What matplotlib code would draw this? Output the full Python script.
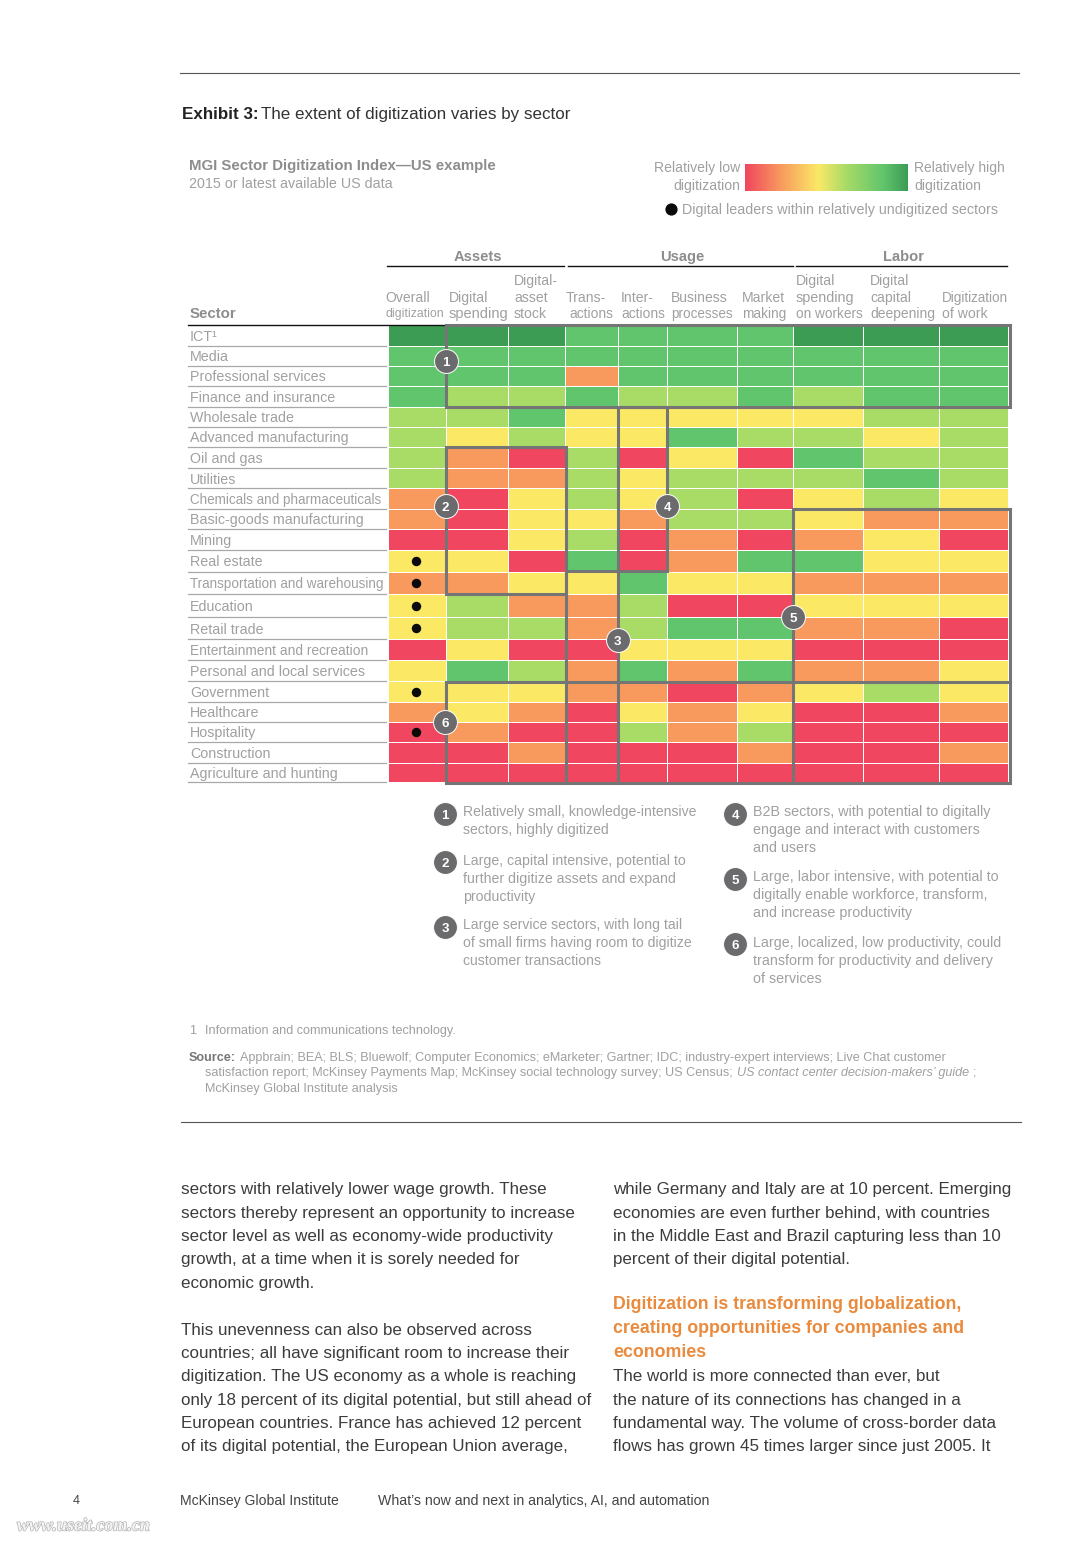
import numpy as np
import matplotlib
matplotlib.use('Agg')
import matplotlib.pyplot as plt
import matplotlib.patheffects as pe
from matplotlib.colors import ListedColormap, LinearSegmentedColormap

plt.rcParams['font.family'] = ['Liberation Sans', 'DejaVu Sans']

# chart data, levels: 0 red .. 5 dark green
sectors = ['ICT\u00b9', 'Media', 'Professional services', 'Finance and insurance', 'Wholesale trade',
           'Advanced manufacturing', 'Oil and gas', 'Utilities', 'Chemicals and pharmaceuticals',
           'Basic-goods manufacturing', 'Mining', 'Real estate', 'Transportation and warehousing',
           'Education', 'Retail trade', 'Entertainment and recreation', 'Personal and local services',
           'Government', 'Healthcare', 'Hospitality', 'Construction', 'Agriculture and hunting']
levels = [
    [5, 5, 5, 4, 4, 4, 4, 5, 5, 5],
    [4, 4, 4, 4, 4, 4, 4, 4, 4, 4],
    [4, 4, 4, 1, 4, 4, 4, 4, 4, 4],
    [4, 3, 3, 4, 3, 3, 4, 3, 4, 4],
    [3, 3, 4, 2, 2, 2, 2, 2, 3, 3],
    [3, 2, 3, 2, 2, 4, 3, 3, 2, 3],
    [3, 1, 0, 3, 0, 2, 0, 4, 3, 3],
    [3, 1, 1, 3, 2, 3, 3, 3, 4, 3],
    [1, 0, 2, 3, 2, 3, 0, 2, 3, 2],
    [1, 0, 2, 2, 1, 3, 3, 2, 1, 1],
    [0, 0, 2, 3, 0, 1, 0, 1, 2, 0],
    [2, 2, 0, 4, 0, 1, 4, 4, 2, 2],
    [1, 1, 2, 2, 4, 2, 2, 1, 1, 1],
    [2, 3, 1, 1, 3, 0, 0, 2, 2, 2],
    [2, 3, 3, 1, 3, 4, 4, 1, 1, 0],
    [0, 2, 0, 0, 2, 2, 2, 0, 0, 0],
    [2, 4, 3, 1, 4, 1, 4, 1, 1, 2],
    [2, 2, 2, 1, 1, 0, 1, 2, 3, 2],
    [1, 2, 1, 0, 2, 1, 2, 0, 0, 1],
    [0, 1, 0, 0, 3, 1, 3, 0, 0, 0],
    [0, 0, 1, 0, 0, 0, 1, 0, 0, 1],
    [0, 0, 0, 0, 0, 0, 0, 0, 0, 0],
]
leaders = ['Real estate', 'Transportation and warehousing', 'Education', 'Retail trade', 'Government', 'Hospitality']

# layout, in page pixels
row_edges = [325, 345.5, 365.7, 385.7, 406.7, 426.7, 447.3, 468, 488.3, 508.7, 529.3, 549.7,
             571.7, 594.3, 617.3, 639.3, 660.3, 681.3, 701.7, 721.7, 742.3, 762.7, 782.3]
col_edges = [388, 446, 508.3, 565.3, 618.3, 666.7, 737.3, 793.3, 863.3, 939.3, 1008.3]
# the long labels are set tighter in the original
label_sizes = {'Transportation and warehousing': 13.55, 'Chemicals and pharmaceuticals': 13.55,
               'Entertainment and recreation': 13.8}
colors = ['#f1465f', '#f89a5e', '#fbe966', '#a9db67', '#61c56d', '#3d9c54']
grey = '#8d8d8d'
light = '#a0a0a0'
frame = '#757575'

fig = plt.figure(figsize=(10.91, 15.43), dpi=100)
ax = fig.add_axes([0, 0, 1, 1])


def txt(x, y, s, px=13.4, color=light, ha='left', **kw):
    # y is the middle of the lower case letters
    return ax.text(x, y + 0.36 * px, s, fontsize=px * 0.72, color=color, ha=ha, va='baseline', **kw)


# heatmap
ax.pcolormesh(col_edges, row_edges, np.array(levels), cmap=ListedColormap(colors), vmin=-0.5, vmax=5.5,
              edgecolors='white', linewidth=0.55, zorder=2)

# sector labels and rules
for i, name in enumerate(sectors):
    yc = (row_edges[i] + row_edges[i + 1]) / 2
    txt(190, yc + 0.3, name, px=label_sizes.get(name, 14.2))
    ax.plot([188, 386], [row_edges[i + 1], row_edges[i + 1]], color='#a8a8a8', lw=0.9, zorder=1)
ax.plot([188, 446], [324.6, 324.6], color='#111111', lw=1.0, zorder=3)
for name in leaders:
    i = sectors.index(name)
    ax.plot(415.7, (row_edges[i] + row_edges[i + 1]) / 2, 'o', ms=6.8, color='#0a0a0a', mew=0, zorder=4)

# group outlines
segments = [
    ([446, 1010, 1010, 446, 446], [325, 325, 407, 407, 325]),
    ([446, 565.5, 565.5, 446, 446], [447.3, 447.3, 594.3, 594.3, 447.3]),
    ([565.5, 565.5, 666.7, 666.7, 617.5, 617.5], [594.3, 571.4, 571.4, 407, 407, 571.4]),
    ([565.5, 565.5], [594.3, 782.5]),
    ([618.3, 618.3], [571.4, 782.5]),
    ([793.3, 793.3, 1010, 1010], [782.5, 508.7, 508.7, 782.5]),
    ([446, 446, 1010], [782.5, 681.5, 681.5]),
    ([446, 1010], [782.5, 782.5]),
]
for sx, sy in segments:
    ax.plot(sx, sy, color=frame, lw=2.2, solid_joinstyle='miter', solid_capstyle='projecting', zorder=5)


def badge(x, y, s):
    ax.plot(x, y, 'o', ms=17.2, color='#6b6b6d', mec='white', mew=0.7, zorder=6)
    ax.text(x, y + 0.6, s, fontsize=9.6, color='white', fontweight='bold', ha='center', va='center_baseline', zorder=7)


for x, y, s in [(445.7, 361, '1'), (445.7, 506, '2'), (617.7, 640, '3'), (667, 506, '4'), (793, 617.3, '5'), (445, 721.7, '6')]:
    badge(x, y, s)

# group headers
for x0, x1, xc, name in [(387.3, 564, 477.5, 'Assets'), (567.7, 792.7, 682.5, 'Usage'), (796, 1006.7, 903, 'Labor')]:
    ax.plot([x0, x1], [266.2, 266.2], color='#111111', lw=1.0)
    txt(xc, 256, name, px=14.8, color=grey, ha='center', fontweight='bold')
txt(190, 313, 'Sector', px=15, color=grey, fontweight='bold')

col_heads = [
    (385, 297, 'Overall', 14), (385, 313, 'digitization', 12.3),
    (449, 297, 'Digital', 14), (449, 313, 'spending', 14.6),
    (514, 280, 'Digital-', 14), (514, 297, 'asset', 14), (514, 313, 'stock', 14),
    (566, 297, 'Trans-', 14), (569.5, 313, 'actions', 13.8),
    (621, 297, 'Inter-', 14), (621, 313, 'actions', 13.8),
    (671, 297, 'Business', 14), (671, 313, 'processes', 13.5),
    (742, 297, 'Market', 14), (742, 313, 'making', 13.6),
    (796, 280, 'Digital', 14), (796, 297, 'spending', 14.4), (796, 313, 'on workers', 13.6),
    (870, 280, 'Digital', 14), (870, 297, 'capital', 14), (870, 313, 'deepening', 13.9),
    (942, 297, 'Digitization', 13.5), (942, 313, 'of work', 14),
]
for x, y, s, size in col_heads:
    txt(x, y, s, px=size)

# page rules
ax.plot([180, 1019], [73.3, 73.3], color='#555555', lw=0.8)
ax.plot([181, 1021], [1122.3, 1122.3], color='#555555', lw=0.8)

# title block
txt(182, 113, 'Exhibit 3:', px=17, color='#222222', fontweight='bold')
txt(261, 113, 'The extent of digitization varies by sector', px=17, color='#333333')
txt(189, 165, 'MGI Sector Digitization Index\u2014US example', px=15, color=grey, fontweight='bold')
txt(189, 183, '2015 or latest available US data', px=14.3)

# legend
ramp = LinearSegmentedColormap.from_list('ramp', [(0, colors[0]), (0.22, colors[1]), (0.45, colors[2]),
                                                  (0.62, colors[3]), (0.85, colors[4]), (1, colors[5])])
ax.imshow(np.linspace(0, 1, 256)[None, :], cmap=ramp, extent=(745, 907.7, 190.7, 164), aspect='auto', zorder=2)
txt(740, 167, 'Relatively low', px=14, ha='right')
txt(740, 185, 'digitization', px=14, ha='right')
txt(914, 167, 'Relatively high', px=13.9)
txt(914, 185, 'digitization', px=14)
ax.plot(670.5, 209, 'o', ms=8.8, color='#0a0a0a', mew=0)
txt(682, 209, 'Digital leaders within relatively undigitized sectors', px=14.2)

# numbered notes
notes = [
    (445, 814, '1', 463, 811, 14.0, ['Relatively small, knowledge-intensive', 'sectors, highly digitized']),
    (445, 862, '2', 463, 860, 14.1, ['Large, capital intensive, potential to', 'further digitize assets and expand', 'productivity']),
    (445, 927, '3', 463, 924, 14.05, ['Large service sectors, with long tail', 'of small firms having room to digitize', 'customer transactions']),
    (735, 814, '4', 753, 811, 14.2, ['B2B sectors, with potential to digitally', 'engage and interact with customers', 'and users']),
    (735, 879, '5', 753, 876, 14.2, ['Large, labor intensive, with potential to', 'digitally enable workforce, transform,', 'and increase productivity']),
    (735, 944, '6', 753, 942, 14.2, ['Large, localized, low productivity, could', 'transform for productivity and delivery', 'of services']),
]
for bx, by, s, tx, ty, size, lines in notes:
    badge(bx, by, s)
    for k, line in enumerate(lines):
        txt(tx, ty + 18 * k, line, px=size)

# footnotes
fn = 12.65
txt(189, 1029, '1', px=fn)
txt(205, 1029, 'Information and communications technology.', px=fn)
txt(189, 1056, 'Source:', px=fn, color='#777777', fontweight='bold')
txt(240, 1056, 'Appbrain; BEA; BLS; Bluewolf; Computer Economics; eMarketer; Gartner; IDC; industry-expert interviews; Live Chat customer', px=fn)
txt(205, 1071, 'satisfaction report; McKinsey Payments Map; McKinsey social technology survey; US Census;', px=fn)
txt(737, 1071, "US contact center decision-makers\u2019 guide", px=fn, style='italic')
txt(973, 1071, ';', px=fn)
txt(205, 1087, 'McKinsey Global Institute analysis', px=fn)

# body text
body = '#3c3c3c'
left_lines = [(1188, 'sectors with relatively lower wage growth. These'), (1212, 'sectors thereby represent an opportunity to increase'),
              (1235, 'sector level as well as economy-wide productivity'), (1258, 'growth, at a time when it is sorely needed for'),
              (1282, 'economic growth.'), (1329, 'This unevenness can also be observed across'),
              (1352, 'countries; all have significant room to increase their'), (1375, 'digitization. The US economy as a whole is reaching'),
              (1399, 'only 18 percent of its digital potential, but still ahead of'), (1422, 'European countries. France has achieved 12 percent'),
              (1445, 'of its digital potential, the European Union average,')]
right_lines = [(1188, 'while Germany and Italy are at 10 percent. Emerging'), (1212, 'economies are even further behind, with countries'),
               (1235, 'in the Middle East and Brazil capturing less than 10'), (1258, 'percent of their digital potential.'),
               (1375, 'The world is more connected than ever, but'), (1399, 'the nature of its connections has changed in a'),
               (1422, 'fundamental way. The volume of cross-border data'), (1445, 'flows has grown 45 times larger since just 2005. It')]
heading = [(1303, 'Digitization is transforming globalization,'), (1327, 'creating opportunities for companies and'), (1351, 'economies')]
for y, s in left_lines:
    txt(181, y, s, px=17.0, color=body)
for y, s in right_lines:
    txt(613, y, s, px=17.0, color=body)
for y, s in heading:
    txt(613, y, s, px=17.75, color='#e98a3c', fontweight='bold')

# footer
txt(73, 1500, '4', px=12.5, color='#444444')
txt(180, 1500, 'McKinsey Global Institute', px=14, color='#444444')
txt(378, 1500, 'What\u2019s now and next in analytics, AI, and automation', px=14.1, color='#444444')
wm = txt(17, 1524, 'www.useit.com.cn', px=18, color='#f4f4f4', family='Liberation Serif', style='italic', fontweight='bold')
wm.set_path_effects([pe.Stroke(linewidth=1.0, foreground='#b4b4b4'), pe.Normal()])

ax.set_xlim(0, 1091)
ax.set_ylim(1543, 0)
ax.axis('off')
fig.savefig('out.png', dpi=100, facecolor='white')
